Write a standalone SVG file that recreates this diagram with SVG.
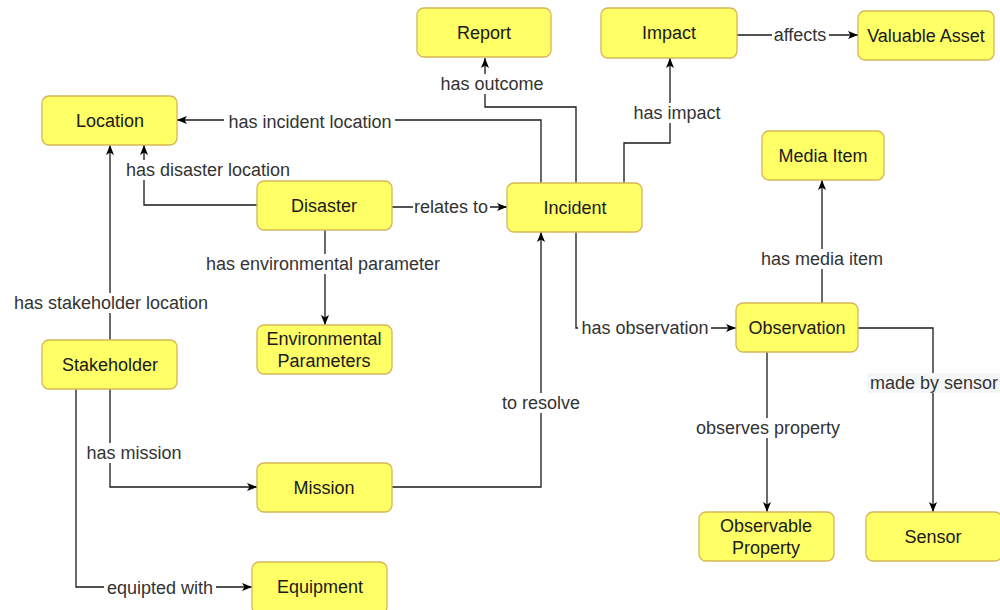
<svg xmlns="http://www.w3.org/2000/svg" width="1000" height="610" viewBox="0 0 1000 610">
<style>
.node rect{fill:#ffff66;stroke:#d6b656;stroke-width:1.3}
.node text{font-family:"Liberation Sans",Arial,sans-serif;font-size:18px;fill:#1a1a1a;text-anchor:middle}
.edge{fill:none;stroke:#1a1a1a;stroke-width:1.3;marker-end:url(#arr)}
.lbg{fill:#ffffff}
.lbl{font-family:"Liberation Sans",Arial,sans-serif;font-size:18px;fill:#333333;text-anchor:middle}
</style>
<defs>
<marker id="arr" viewBox="0 0 10 8" refX="10" refY="4" markerWidth="10" markerHeight="8" markerUnits="userSpaceOnUse" orient="auto">
<path d="M0,0 L10,4 L0,8 L2.5,4 z" fill="#000"/>
</marker>
</defs>
<rect width="1000" height="610" fill="#ffffff"/>
<g id="connectors">
<path class="edge" d="M541,183 V120 H177"/>
<path class="edge" d="M576,183 V107 H485 V58"/>
<path class="edge" d="M624,183 V143 H670 V58"/>
<path class="edge" d="M737,35 H858"/>
<path class="edge" d="M257,205 H144 V145"/>
<path class="edge" d="M391,207 H507"/>
<path class="edge" d="M325,230 V325"/>
<path class="edge" d="M110,340 V145"/>
<path class="edge" d="M110,389 V487 H257"/>
<path class="edge" d="M76,389 V587 H252"/>
<path class="edge" d="M392,487 H541 V232"/>
<path class="edge" d="M576,232 V328 H736"/>
<path class="edge" d="M822,303 V180"/>
<path class="edge" d="M767,352 V512"/>
<path class="edge" d="M858,328 H933 V512"/>
<g id="labels">
<rect class="lbg" x="224" y="111" width="171" height="20"/><text class="lbl" x="310" y="128">has incident location</text>
<rect class="lbg" x="438" y="74" width="108" height="20"/><text class="lbl" x="492" y="90">has outcome</text>
<rect class="lbg" x="631" y="103" width="92" height="20"/><text class="lbl" x="677" y="119">has impact</text>
<rect class="lbg" x="772" y="25" width="57" height="20"/><text class="lbl" x="800" y="41">affects</text>
<rect class="lbg" x="122" y="160" width="172" height="20"/><text class="lbl" x="208" y="176">has disaster location</text>
<rect class="lbg" x="413" y="197" width="77" height="20"/><text class="lbl" x="451" y="213">relates to</text>
<rect class="lbg" x="201" y="254" width="243" height="20"/><text class="lbl" x="323" y="270">has environmental parameter</text>
<rect class="lbg" x="10" y="293" width="201" height="20"/><text class="lbl" x="111" y="309">has stakeholder location</text>
<rect class="lbg" x="84" y="443" width="101" height="20"/><text class="lbl" x="134" y="459">has mission</text>
<rect class="lbg" x="104" y="578" width="112" height="20"/><text class="lbl" x="160" y="594">equipted with</text>
<rect class="lbg" x="500" y="393" width="82" height="20"/><text class="lbl" x="541" y="409">to resolve</text>
<rect class="lbg" x="578" y="318" width="133" height="20"/><text class="lbl" x="645" y="334">has observation</text>
<rect class="lbg" x="758" y="249" width="128" height="20"/><text class="lbl" x="822" y="265">has media item</text>
<rect class="lbg" x="693" y="418" width="150" height="20"/><text class="lbl" x="768" y="434">observes property</text>
<rect x="868" y="373" width="132" height="20" fill="#f5f6f7"/><text class="lbl" x="934" y="389">made by sensor</text>
</g>
</g>
<g id="report" class="node"><rect x="417" y="8" width="134" height="49" rx="7"/><text x="484" y="39">Report</text></g>
<g id="impact" class="node"><rect x="601" y="8" width="136" height="50" rx="7"/><text x="669" y="39">Impact</text></g>
<g id="valuable-asset" class="node"><rect x="858" y="11" width="136" height="49" rx="7"/><text x="926" y="42">Valuable Asset</text></g>
<g id="location" class="node"><rect x="42" y="96" width="135" height="49" rx="7"/><text x="110" y="127">Location</text></g>
<g id="disaster" class="node"><rect x="257" y="181" width="135" height="49" rx="7"/><text x="324" y="212">Disaster</text></g>
<g id="incident" class="node"><rect x="507" y="183" width="135" height="49" rx="7"/><text x="575" y="214">Incident</text></g>
<g id="media-item" class="node"><rect x="762" y="131" width="122" height="49" rx="7"/><text x="823" y="162">Media Item</text></g>
<g id="environmental-parameters" class="node"><rect x="257" y="325" width="135" height="49" rx="7"/><text x="324" y="345">Environmental</text><text x="324" y="367">Parameters</text></g>
<g id="stakeholder" class="node"><rect x="42" y="340" width="135" height="49" rx="7"/><text x="110" y="371">Stakeholder</text></g>
<g id="observation" class="node"><rect x="736" y="303" width="122" height="49" rx="7"/><text x="797" y="334">Observation</text></g>
<g id="mission" class="node"><rect x="257" y="463" width="135" height="49" rx="7"/><text x="324" y="494">Mission</text></g>
<g id="equipment" class="node"><rect x="252" y="562" width="135" height="52" rx="7"/><text x="320" y="593">Equipment</text></g>
<g id="observable-property" class="node"><rect x="699" y="512" width="135" height="49" rx="7"/><text x="766" y="532">Observable</text><text x="766" y="554">Property</text></g>
<g id="sensor" class="node"><rect x="866" y="512" width="136" height="49" rx="7"/><text x="933" y="543">Sensor</text></g>
</svg>
